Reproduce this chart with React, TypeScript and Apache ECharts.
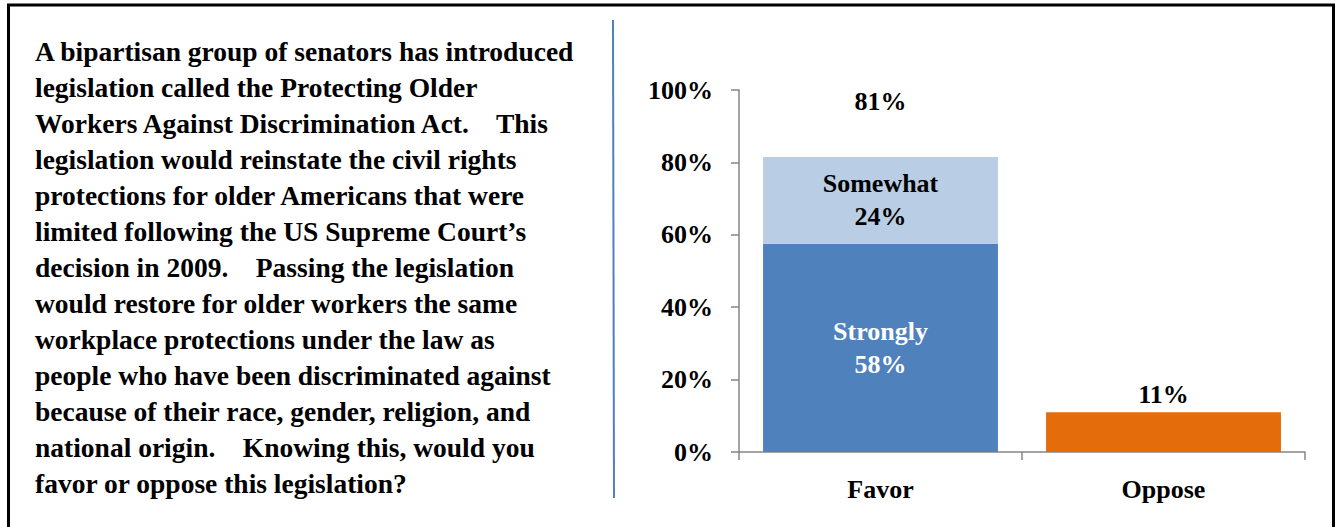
import React, { useEffect, useRef } from "react";
import * as echarts from "echarts";

const categories = ["Favor", "Oppose"];
const stronglyValues: (number | string)[] = [57.5, "-"];
const somewhatValues: (number | string)[] = [24, "-"];
const opposeValues: (number | string)[] = ["-", 11];
const favorTotal = 81.5;
const stronglyLabel = ["Strongly", "58%"];
const somewhatLabel = ["Somewhat", "24%"];
const favorTotalLabel = "81%";
const opposeLabel = "11%";
const yTicks = [0, 20, 40, 60, 80, 100];

const questionLines = [
  "A bipartisan group of senators has introduced",
  "legislation called the Protecting Older",
  "Workers Against Discrimination Act.    This",
  "legislation would reinstate the civil rights",
  "protections for older Americans that were",
  "limited following the US Supreme Court\u2019s",
  "decision in 2009.    Passing the legislation",
  "would restore for older workers the same",
  "workplace protections under the law as",
  "people who have been discriminated against",
  "because of their race, gender, religion, and",
  "national origin.    Knowing this, would you",
  "favor or oppose this legislation?",
];

const FONT = "'Liberation Serif', 'DejaVu Serif', serif";

export default function App() {
  const ref = useRef<HTMLDivElement>(null);
  useEffect(() => {
    if (!ref.current) return;
    const chart = echarts.init(ref.current, null, { renderer: "svg" });
    const textEls = questionLines.map((line, i) => ({
      type: "text",
      x: 35,
      y: 51.5 + i * 36,
      style: {
        text: line,
        font: `bold 27.5px ${FONT}`,
        fill: "#000",
        verticalAlign: "middle",
      },
    }));
    const lbl = {
      fontWeight: "bold",
      fontSize: 26,
      fontFamily: FONT,
    };
    chart.setOption({
      animation: false,
      backgroundColor: "#fff",
      textStyle: { fontFamily: FONT },
      grid: { left: 739, right: 32, top: 90, bottom: 75 },
      xAxis: {
        type: "category",
        data: categories,
        axisLine: { lineStyle: { color: "#868686", width: 1.5 } },
        axisTick: { show: true, length: 8, lineStyle: { color: "#868686", width: 1.5 } },
        axisLabel: { ...lbl, color: "#000", margin: 24 },
      },
      yAxis: {
        type: "value",
        min: 0,
        max: 100,
        interval: 20,
        splitLine: { show: false },
        axisLine: { show: true, lineStyle: { color: "#868686", width: 1.5 } },
        axisTick: { show: true, length: 8, lineStyle: { color: "#868686", width: 1.5 } },
        axisLabel: {
          ...lbl,
          color: "#000",
          margin: 26,
          formatter: (v: number) => (yTicks.includes(v) ? `${v}%` : ""),
        },
      },
      series: [
        {
          name: "Strongly",
          type: "bar",
          stack: "a",
          barCategoryGap: "17%",
          data: stronglyValues,
          itemStyle: { color: "#4F81BD" },
          label: {
            ...lbl,
            show: true,
            position: "inside",
            color: "#fff",
            lineHeight: 33,
            formatter: stronglyLabel.join("\n"),
          },
        },
        {
          name: "Somewhat",
          type: "bar",
          stack: "a",
          data: somewhatValues,
          itemStyle: { color: "#B9CDE5" },
          label: {
            ...lbl,
            show: true,
            position: "inside",
            color: "#000",
            lineHeight: 33,
            formatter: somewhatLabel.join("\n"),
          },
        },
        {
          name: "Oppose",
          type: "bar",
          stack: "a",
          data: opposeValues,
          itemStyle: { color: "#E46C0A" },
          label: {
            ...lbl,
            show: true,
            position: "top",
            distance: 5,
            color: "#000",
            formatter: opposeLabel,
          },
        },
        {
          name: "Total",
          type: "scatter",
          symbolSize: 0,
          data: [[0, favorTotal]],
          itemStyle: { opacity: 1 },
          label: {
            ...lbl,
            show: true,
            position: "top",
            distance: 42,
            color: "#000",
            opacity: 1,
            formatter: favorTotalLabel,
          },
        },
      ],
      graphic: [
        {
          type: "rect",
          shape: { x: 8.5, y: 5, width: 1325, height: 600 },
          style: { fill: "none", stroke: "#000", lineWidth: 3 },
        },
        {
          type: "line",
          shape: { x1: 613, y1: 20, x2: 614, y2: 498 },
          style: { stroke: "#4F81BD", lineWidth: 2 },
        },
        ...textEls,
      ],
    });
    return () => chart.dispose();
  }, []);
  return (
    <div
      ref={ref}
      style={{ position: "fixed", left: 0, top: 0, width: 1337, height: 527 }}
    />
  );
}
